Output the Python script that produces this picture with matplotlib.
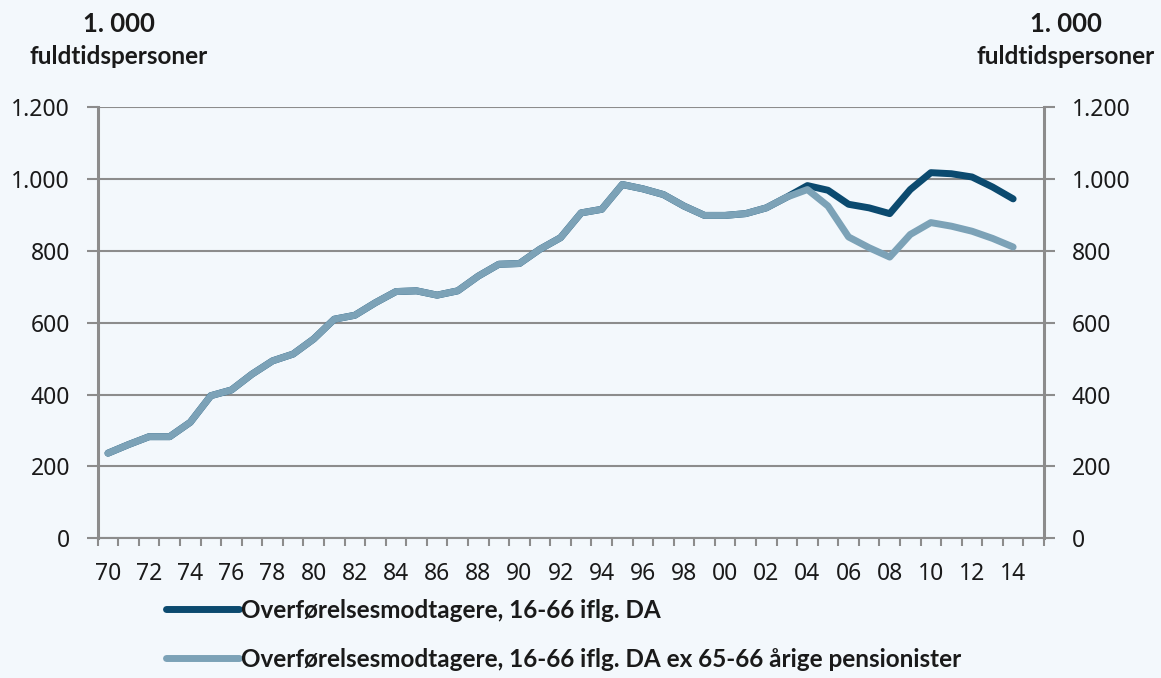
import matplotlib
matplotlib.use("Agg")
import matplotlib.pyplot as plt
from matplotlib.ticker import FixedLocator, FuncFormatter

plt.rcParams['font.family'] = ['Noto Sans', 'DejaVu Sans']

years = list(range(1970, 2015))
light = [237, 261, 283, 283, 323, 397, 413, 457, 494, 513,
         555, 610, 621, 656, 687, 689, 677, 689, 730, 763,
         765, 805, 837, 906, 916, 985, 973, 957, 925, 899,
         899, 904, 920, 950, 971, 925, 839, 809, 783, 846,
         879, 869, 855, 835, 811]
dark = light[:34] + [982, 969, 930, 920, 904, 971, 1018, 1015, 1006, 978, 945]

label_dark = "Overførelsesmodtagere, 16-66 iflg. DA"
label_light = "Overførelsesmodtagere, 16-66 iflg. DA ex 65-66 årige pensionister"
unit_top = "1. 000"
unit_bottom = "fuldtidspersoner"
yticks = [0, 200, 400, 600, 800, 1000, 1200]
xlabel_years = list(range(1970, 2015, 2))

BG = "#F3F8FC"
DARK = "#0B4A6F"
LIGHT = "#7CA2B7"
GRID = "#8C8C8C"
TXT = "#1A1A1A"
BOLD_FAMILY = ['Lato', 'DejaVu Sans']

W, H = 1161, 678
fig = plt.figure(figsize=(W / 100, H / 100), dpi=100, facecolor=BG)
ax = fig.add_axes([97.7 / W, 1 - 538.3 / H, (1044 - 97.7) / W, (538.3 - 107.3) / H])
ax.set_facecolor(BG)

l1, = ax.plot(years, dark, color=DARK, lw=5.0, solid_capstyle='round', solid_joinstyle='round', zorder=3)
l2, = ax.plot(years, light, color=LIGHT, lw=5.0, solid_capstyle='round', solid_joinstyle='round', zorder=4)

ax.set_xlim(1969.5, 2015.5)
ax.set_ylim(0, 1200)

def fmt(v, pos):
    v = int(round(v))
    return f"{v:,}".replace(",", ".")

ax.yaxis.set_major_locator(FixedLocator(yticks))
ax.yaxis.set_major_formatter(FuncFormatter(fmt))
ax.grid(axis='y', color=GRID, lw=1.5, zorder=1)
ax.set_axisbelow(True)

ax.xaxis.set_major_locator(FixedLocator(xlabel_years))
ax.xaxis.set_major_formatter(FuncFormatter(lambda v, p: f"{int(round(v)) % 100:02d}"))
ax.xaxis.set_minor_locator(FixedLocator([y + 0.5 for y in range(1969, 2016)]))
ax.tick_params(axis='x', which='major', length=0, pad=17, labelsize=16.5, labelcolor=TXT)
ax.tick_params(axis='x', which='minor', length=6, width=1.5, color=GRID, direction='out')

ax.tick_params(axis='y', which='major', length=8, width=1.5, color=GRID, direction='out',
               labelsize=16.5, labelcolor=TXT, pad=12, left=True, right=True,
               labelleft=True, labelright=True)

ax.spines['top'].set_visible(False)
for s in ['left', 'right']:
    ax.spines[s].set_color(GRID)
    ax.spines[s].set_linewidth(2.2)
ax.spines['bottom'].set_color(GRID)
ax.spines['bottom'].set_linewidth(1.5)

for xc in (119, 1066):
    fig.text(xc / W, 1 - 24 / H, unit_top, ha='center', va='center', fontsize=18.5,
             fontweight='bold', color=TXT, family=BOLD_FAMILY)
    fig.text(xc / W, 1 - 57 / H, unit_bottom, ha='center', va='center', fontsize=17.5,
             fontweight='bold', color=TXT, family=BOLD_FAMILY)

leg = fig.legend([l1, l2], [label_dark, label_light], loc='upper left',
                 bbox_to_anchor=(166 / W, 1 - 599 / H), frameon=False,
                 prop={'weight': 'bold', 'size': 17.5, 'family': BOLD_FAMILY},
                 handlelength=3.0, handletextpad=0.1, labelspacing=1.05,
                 borderaxespad=0, borderpad=0)
for t in leg.get_texts():
    t.set_color(TXT)

fig.savefig("out.png", dpi=100, facecolor=BG)
